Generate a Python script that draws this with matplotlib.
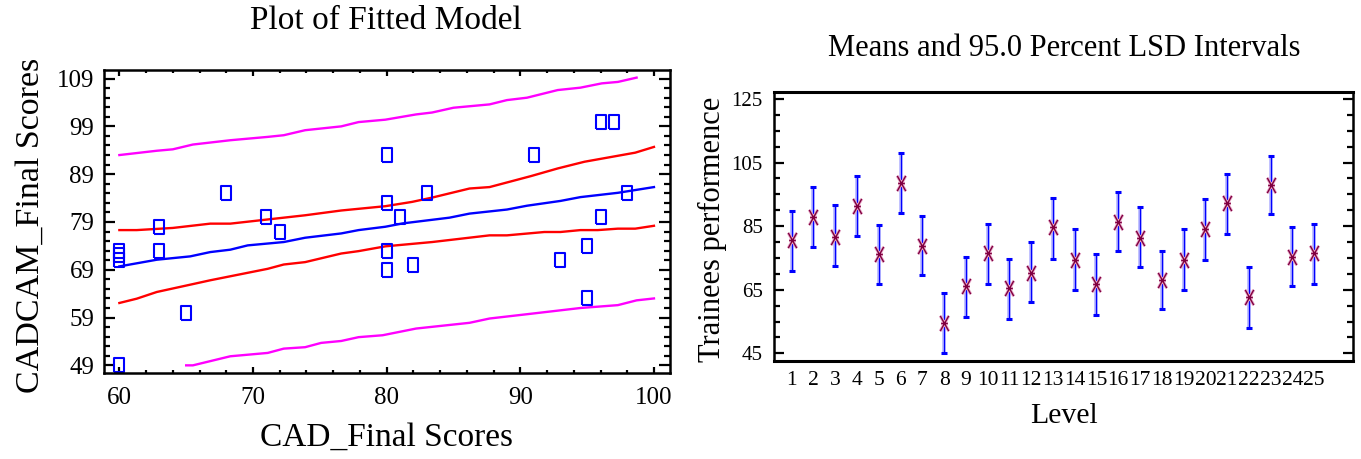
import numpy as np
import matplotlib
matplotlib.use('Agg')
import matplotlib.pyplot as plt
from matplotlib.path import Path
from matplotlib.ticker import MultipleLocator, FixedLocator

plt.rcParams['font.family'] = ['Liberation Serif', 'DejaVu Serif']

# left panel: observations
cad_x = [60, 60, 60, 60, 63, 63, 65, 68, 71, 72, 80, 80, 80, 80, 81, 82, 83, 91, 93, 95, 95, 96, 96, 97, 98]
cadcam_y = [73, 72, 71, 49, 78, 73, 60, 85, 80, 77, 93, 83, 73, 69, 80, 70, 85, 93, 71, 74, 63, 100, 80, 100, 85]

# fitted line
fit_x = [60, 62.8, 65.3, 66.8, 68.3, 69.6, 72.3, 73.9, 76.6, 77.9, 79.9, 81.2, 84.7, 86.2, 89.0, 90.5, 93.0, 94.5, 97.3, 100]
fit_y = [69.7, 71.1, 71.8, 72.7, 73.2, 74.1, 74.8, 75.7, 76.6, 77.3, 78.0, 78.7, 79.9, 80.75, 81.6, 82.4, 83.4, 84.2, 85.1, 86.3]

# confidence limits for the mean
uc_x = [60, 61.3, 64.0, 66.8, 68.3, 72.3, 73.9, 76.6, 79.9, 81.9, 83.4, 86.2, 87.7, 90.8, 92.8, 94.8, 98.6, 100]
uc_y = [77.3, 77.3, 77.75, 78.65, 78.65, 79.9, 80.4, 81.4, 82.3, 83.2, 84.1, 86.0, 86.3, 88.6, 90.2, 91.6, 93.5, 94.7]
lc_x = [60, 61.3, 62.8, 65.5, 66.8, 71.1, 72.3, 73.9, 76.6, 77.9, 79.9, 83.4, 87.7, 89.0, 91.8, 93.0, 94.5, 95.8, 97.3, 98.6, 100]
lc_y = [62.05, 62.95, 64.35, 66.0, 66.8, 69.2, 70.1, 70.6, 72.4, 72.9, 73.9, 74.8, 76.2, 76.2, 76.9, 76.9, 77.3, 77.3, 77.6, 77.6, 78.2]

# prediction limits
up_x = [60, 62.8, 64.0, 65.5, 68.3, 71.1, 72.3, 73.9, 76.6, 77.9, 79.9, 82.2, 83.4, 85.0, 87.7, 89.0, 90.5, 92.8, 94.5, 96.1, 97.3, 98.7]
up_y = [93.0, 93.9, 94.2, 95.2, 96.1, 96.8, 97.15, 98.2, 99.0, 99.9, 100.4, 101.5, 101.9, 102.9, 103.6, 104.5, 105.0, 106.6, 107.1, 108.0, 108.3, 109.2]
lp_x = [65.0, 65.5, 68.3, 71.1, 72.3, 73.9, 75.1, 76.6, 77.9, 79.7, 82.2, 86.2, 87.7, 90.5, 94.5, 97.3, 98.7, 100]
lp_y = [49.0, 49.0, 50.9, 51.6, 52.5, 52.8, 53.7, 54.1, 54.9, 55.3, 56.7, 57.9, 58.8, 59.7, 61.0, 61.6, 62.6, 63.0]

left_yticks = [49, 59, 69, 79, 89, 99, 109]
left_xticks = [60, 70, 80, 90, 100]

# right panel: means and LSD intervals
levels = [str(i) for i in range(1, 26)]
means = [80.7, 88.0, 81.7, 91.5, 76.3, 98.5, 78.9, 54.7, 66.2, 76.7, 65.7, 70.4, 84.9,
         74.4, 66.8, 86.4, 81.2, 68.1, 74.4, 84.1, 92.2, 62.8, 98.0, 75.4, 76.5]
upper = [89.9, 97.4, 91.6, 100.9, 85.3, 107.9, 88.2, 63.9, 75.4, 85.7, 74.8, 80.0, 94.0,
         84.1, 76.2, 95.6, 91.1, 77.3, 84.1, 93.4, 101.4, 72.1, 107.1, 84.9, 85.7]
lower = [70.8, 78.4, 72.6, 81.9, 66.8, 89.3, 69.65, 45.0, 56.3, 66.8, 55.8, 61.0, 74.8,
         65.0, 57.1, 77.2, 72.1, 58.9, 65.0, 74.4, 82.4, 53.1, 88.7, 66.2, 66.8]
right_yticks = [45, 65, 85, 105, 125]

W, H = 1361, 459
fig = plt.figure(figsize=(W/100., H/100.), dpi=100)

def box(l, t, r, b):
  return [l/W, 1-b/H, (r-l)/W, (b-t)/H]

# ---- left: fitted model
ax1 = fig.add_axes(box(104, 69.5, 670, 373))
rect = [(-0.31, -0.5), (0.31, -0.5), (0.31, 0.5), (-0.31, 0.5), (-0.31, -0.5)]
ax1.plot(up_x, up_y, color='#ff00ff', lw=1.7)
ax1.plot(lp_x, lp_y, color='#ff00ff', lw=1.7)
ax1.plot(uc_x, uc_y, color='#ff0000', lw=1.7)
ax1.plot(lc_x, lc_y, color='#ff0000', lw=1.7)
ax1.plot(fit_x, fit_y, color='#0000ff', lw=1.7)
ax1.plot(cad_x, cadcam_y, ls='none', marker=rect, ms=10.5, mfc='none', mec='#0000ff', mew=1.5)
ax1.set_xlim(58.85, 101.2)
ax1.set_ylim(47.4, 110.9)
ax1.xaxis.set_major_locator(FixedLocator(left_xticks))
ax1.xaxis.set_minor_locator(MultipleLocator(2))
ax1.yaxis.set_major_locator(FixedLocator(left_yticks))
ax1.yaxis.set_minor_locator(FixedLocator(np.arange(49, 111, 2)))
ax1.tick_params(axis='both', which='both', direction='in', top=True, right=True, width=1.6, colors='black')
ax1.tick_params(axis='y', which='major', length=8, pad=7, labelsize=18)
ax1.tick_params(axis='y', which='minor', length=4.5)
ax1.tick_params(axis='x', which='major', length=4, pad=10, labelsize=18)
ax1.tick_params(axis='x', which='minor', length=2.5)
for s in ax1.spines.values(): s.set_linewidth(1.8)
fig.text(386/W, 1-21/H, 'Plot of Fitted Model', ha='center', va='center', fontsize=24)
fig.text(386/W, 1-437/H, 'CAD_Final Scores', ha='center', va='center', fontsize=24)
fig.text(31/W, 1-225/H, 'CADCAM_Final Scores', ha='center', va='center', fontsize=24.5, rotation=90)

# ---- right: means plot
ax2 = fig.add_axes(box(774, 91.7, 1353, 361))
xpos = np.arange(1, len(levels)+1)
for i in range(len(levels)):
  ax2.plot([xpos[i], xpos[i]], [lower[i], upper[i]], color='#b4b4ff', lw=2.6, solid_capstyle='butt', zorder=2)
  ax2.plot([xpos[i], xpos[i]], [lower[i], upper[i]], color='#0000ff', lw=0.9, zorder=3)
ax2.plot(xpos, upper, ls='none', marker='_', ms=4.5, mew=2.2, color='#0000ff', zorder=3)
ax2.plot(xpos, lower, ls='none', marker='_', ms=4.5, mew=2.2, color='#0000ff', zorder=3)
star = Path([(-0.28, -0.5), (0.28, 0.5), (-0.28, 0.5), (0.28, -0.5), (-0.22, 0), (0.22, 0)],
            [Path.MOVETO, Path.LINETO, Path.MOVETO, Path.LINETO, Path.MOVETO, Path.LINETO])
ax2.plot(xpos, means, ls='none', marker=star, ms=11, mfc='none', mec='#e8a8c8', mew=2.2, zorder=4)
ax2.plot(xpos, means, ls='none', marker=star, ms=11, mfc='none', mec='#800040', mew=1.0, zorder=5)
ax2.set_xlim(0.19, 26.78)
ax2.set_ylim(42.6, 127.3)
ax2.set_xticks(xpos)
ax2.set_xticklabels(levels)
ax2.yaxis.set_major_locator(FixedLocator(right_yticks))
ax2.yaxis.set_minor_locator(MultipleLocator(5))
ax2.tick_params(axis='x', which='both', length=0, pad=7, labelsize=15.5)
ax2.tick_params(axis='y', which='both', direction='in', right=True, width=1.6)
ax2.tick_params(axis='y', which='major', length=7.5, pad=8, labelsize=15)
ax2.tick_params(axis='y', which='minor', length=4.5)
for s in ax2.spines.values(): s.set_linewidth(1.8)
ax2.spines['top'].set_linewidth(2.2)
ax2.spines['bottom'].set_linewidth(2.2)
fig.text(1064/W, 1-48/H, 'Means and 95.0 Percent LSD Intervals', ha='center', va='center', fontsize=22)
fig.text(1064/W, 1-416/H, 'Level', ha='center', va='center', fontsize=21.5)
fig.text(712/W, 1-229/H, 'Trainees performence', ha='center', va='center', fontsize=22, rotation=90)

plt.savefig('out.png', dpi=100)
